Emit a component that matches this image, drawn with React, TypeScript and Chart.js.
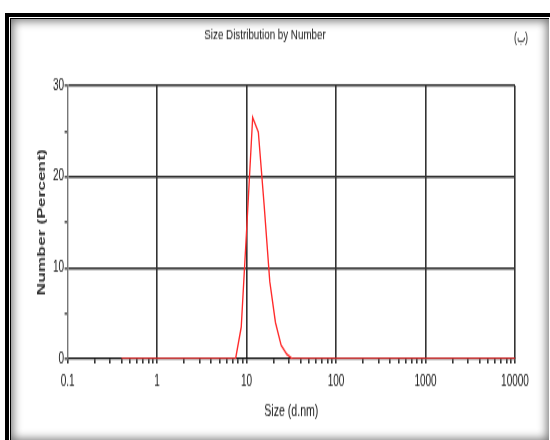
import React, { useEffect, useRef } from 'react';
import { Chart, registerables } from 'chart.js';

Chart.register(...registerables);

// Size bins (d.nm)
const sizes = [
  0.4, 0.4632, 0.5365, 0.6213, 0.7195, 0.8332, 0.9649, 1.117, 1.294, 1.499,
  1.736, 2.01, 2.328, 2.696, 3.122, 3.615, 4.187, 4.849, 5.615, 6.503,
  7.531, 8.721, 10.1, 11.7, 13.54, 15.69, 18.17, 21.04, 24.36, 28.21,
  32.67, 37.84, 43.82, 50.75, 58.77, 68.06, 78.82, 91.28, 105.7, 122.4,
  141.8, 164.2, 190.1, 220.2, 255, 295.3, 342, 396.1, 458.7, 531.2,
  615.1, 712.4, 825, 955.4, 1106, 1281, 1484, 1718, 1990, 2305,
  2669, 3091, 3580, 4145, 4801, 5560, 6439, 7456, 8635, 10000,
];
// Number (%) for each bin
const numberPercent = [
  0, 0, 0, 0, 0, 0, 0, 0, 0, 0,
  0, 0, 0, 0, 0, 0, 0, 0, 0, 0,
  0, 3.5, 14.8, 26.5, 24.9, 17.0, 8.5, 4.0, 1.5, 0.5,
  0, 0, 0, 0, 0, 0, 0, 0, 0, 0,
  0, 0, 0, 0, 0, 0, 0, 0, 0, 0,
  0, 0, 0, 0, 0, 0, 0, 0, 0, 0,
  0, 0, 0, 0, 0, 0, 0, 0, 0, 0,
];

const xMajorTicks = [0.1, 1, 10, 100, 1000, 10000];
const xMinorMultipliers = [2, 3, 4, 5, 6, 7, 8, 9];
const yAllTicks = [0, 5, 10, 15, 20, 25, 30];
const yLabelTicks = [0, 10, 20, 30];

const chartTitle = 'Size Distribution by Number';
const cornerLabel = '(ب)';
const xTitle = 'Size (d.nm)';
const yTitle = 'Number (Percent)';

const W = 550;
const H = 440;
const INNER_H = 293;
const STRETCH = H / INNER_H;

const FONT = '"Liberation Sans", Arial, sans-serif';
const GRID = '#333333';
const TEXT = '#151515';

const headerPlugin = {
  id: 'headerText',
  afterDraw(chart: any) {
    const ctx = chart.ctx;
    ctx.save();
    ctx.fillStyle = TEXT;
    ctx.textBaseline = 'middle';
    ctx.textAlign = 'center';
    ctx.font = `9.8px ${FONT}`;
    ctx.fillText(chartTitle, 265, 23.5);
    ctx.font = `9px ${FONT}`;
    ctx.fillText(cornerLabel, 521, 25.5);
    ctx.restore();
  },
};

function isMajorX(v: number) {
  return xMajorTicks.some((m) => Math.abs(m - v) / m < 1e-6);
}

export default function App() {
  const ref = useRef<HTMLCanvasElement | null>(null);

  useEffect(() => {
    if (!ref.current) return;
    const xTickValues: number[] = [];
    xMajorTicks.forEach((m, i) => {
      xTickValues.push(m);
      if (i < xMajorTicks.length - 1) xMinorMultipliers.forEach((k) => xTickValues.push(+(m * k).toPrecision(6)));
    });

    const chart = new Chart(ref.current, {
      type: 'line',
      data: {
        datasets: [
          {
            data: sizes.map((s, i) => ({ x: s, y: numberPercent[i] })),
            borderColor: '#ff2a2a',
            borderWidth: 1.35,
            pointRadius: 0,
            tension: 0,
            fill: false,
          },
        ],
      },
      options: {
        responsive: false,
        animation: false,
        devicePixelRatio: 1,
        layout: { padding: { left: 0, right: 35, top: 57, bottom: 0 } },
        plugins: {
          legend: { display: false },
          tooltip: { enabled: false },
          title: { display: false },
        },
        scales: {
          x: {
            type: 'logarithmic',
            min: 0.1,
            max: 10000,
            afterBuildTicks: (scale: any) => {
              scale.ticks = xTickValues.map((v) => ({ value: v, major: isMajorX(v) }));
            },
            afterFit: (scale: any) => {
              scale.height = 54;
            },
            ticks: {
              autoSkip: false,
              maxRotation: 0,
              padding: 6,
              color: TEXT,
              font: { family: FONT, size: 10 },
              callback: (value: any) => (isMajorX(Number(value)) ? String(Number(value)) : ''),
            },
            grid: {
              color: (ctx: any) =>
                ctx.tick && isMajorX(ctx.tick.value) && ctx.tick.value !== 0.1 ? GRID : 'rgba(0,0,0,0)',
              lineWidth: 1.6,
              tickColor: GRID,
              tickLength: 3,
              drawTicks: true,
            },
            border: { display: true, color: '#111', width: 1.3 },
            title: {
              display: true,
              text: xTitle,
              color: TEXT,
              font: { family: FONT, size: 10.6 },
              padding: { top: 0, bottom: 12.5 },
            },
          },
          y: {
            type: 'linear',
            min: 0,
            max: 30,
            afterBuildTicks: (scale: any) => {
              scale.ticks = yAllTicks.map((v) => ({ value: v }));
            },
            afterFit: (scale: any) => {
              scale.width = 67.6;
            },
            ticks: {
              autoSkip: false,
              padding: 0.5,
              color: TEXT,
              font: { family: FONT, size: 10 },
              callback: (value: any) => (yLabelTicks.includes(Number(value)) ? String(value) : ''),
            },
            grid: {
              color: (ctx: any) =>
                ctx.tick && yLabelTicks.includes(ctx.tick.value) && ctx.tick.value !== 0 ? GRID : 'rgba(0,0,0,0)',
              lineWidth: 1.6,
              tickColor: '#555',
              tickLength: 3,
              drawTicks: true,
            },
            border: { display: true, color: '#777', width: 1.4 },
            title: {
              display: true,
              text: yTitle,
              color: '#333',
              font: { family: FONT, size: 11.6, weight: 'bold' },
              padding: { top: 35, bottom: 0 },
            },
          },
        },
      },
      plugins: [headerPlugin],
    });
    return () => chart.destroy();
  }, []);

  return (
    <div>
      <div
        style={{
          position: 'fixed',
          left: 5,
          top: 13,
          width: 600,
          height: 500,
          border: '4px solid #000',
          boxSizing: 'border-box',
          background: '#fff',
        }}
      />
      <div
        style={{
          position: 'fixed',
          left: 10,
          top: 18,
          width: 539,
          height: 423,
          borderTop: '1px solid #000',
          borderLeft: '1px solid #000',
          boxSizing: 'border-box',
          background: '#fff',
          boxShadow: 'inset 0 0 10px 2px rgba(0,0,0,0.55)',
        }}
      />
      <div
        style={{
          position: 'fixed',
          left: 0,
          top: 0,
          width: W,
          height: INNER_H,
          transform: `scaleY(${STRETCH})`,
          transformOrigin: '0 0',
        }}
      >
        <canvas ref={ref} width={W} height={INNER_H} style={{ display: 'block' }} />
      </div>
    </div>
  );
}
